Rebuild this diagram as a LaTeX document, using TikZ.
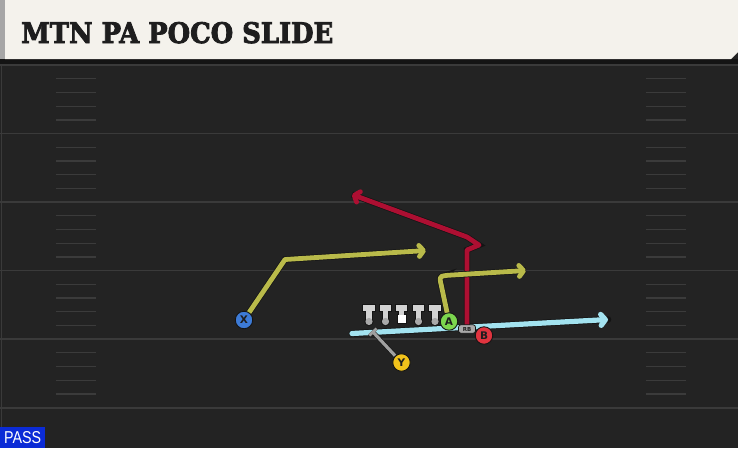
\documentclass[tikz,border=0pt]{standalone}
\usepackage{graphicx}
\usepackage{fontspec}
\setmainfont{Liberation Sans}
\newfontfamily\titlefont[FakeBold=3]{DejaVu Serif Bold}
\newfontfamily\letterfont{DejaVu Sans}
\usetikzlibrary{arrows.meta}
\definecolor{field}{HTML}{232323}
\definecolor{yardline}{HTML}{3A3A3A}
\definecolor{hashc}{HTML}{3B3B3B}
\definecolor{cream}{HTML}{F4F2EC}
\definecolor{titleink}{HTML}{1E1E1E}
\definecolor{olive}{HTML}{B9BA4A}
\definecolor{crimson}{HTML}{AD0F32}
\definecolor{sky}{HTML}{A3E3F0}
\definecolor{blockgray}{HTML}{A0A0A0}
\definecolor{xblue}{HTML}{3D7BD6}
\definecolor{yyellow}{HTML}{F2C31B}
\definecolor{agreen}{HTML}{7CD64E}
\definecolor{bred}{HTML}{E0343F}
\definecolor{passblue}{HTML}{0B2BD6}
\definecolor{linemanc}{HTML}{D2D2D2}
\definecolor{linebase}{HTML}{A9A9A9}
\definecolor{outline}{HTML}{141414}
\pgfdeclarelayer{fieldlayer}
\pgfdeclarelayer{routelayer}
\pgfsetlayers{fieldlayer,routelayer,main}
\tikzset{
  player/.style={circle, draw=outline, line width=0.9pt, minimum size=17.5pt, inner sep=0pt,
    font=\letterfont\bfseries\fontsize{10.5}{10.5}\selectfont, text=titleink},
  route/.style={line width=4.8pt, line join=round, line cap=round,
    preaction={draw=outline, line width=6.2pt, line cap=butt, -}},
  tipbarb/.style={-{Straight Barb[length=4.5pt,width=11pt,line cap=round,line join=round]}},
  yard/.style={draw=yardline, line width=1.5pt},
  hashmark/.style={draw=hashc, line width=1.2pt},
}
\begin{document}
\begin{tikzpicture}[x=1pt,y=-1pt]
\useasboundingbox (0,0) rectangle (738,448);
% ---------- field ----------
\begin{pgfonlayer}{fieldlayer}
\fill[field] (0,0) rectangle (738,448);
\fill[black!92] (0,59) rectangle (738,65);
\draw[yardline, line width=1pt] (1.5,65) -- (1.5,448);
\foreach \yl in {65,133.5,202,270.5,339,408}{
  \draw[yard] (0,\yl) -- (738,\yl);
}
\foreach \yl in {65,133.5,202,270.5,339}{
  \foreach \off in {13.8,27.5,41.2,55}{
    \draw[hashmark] (56,\yl+\off) -- (96,\yl+\off);
    \draw[hashmark] (646,\yl+\off) -- (686,\yl+\off);
  }
}
% title bar
\fill[cream] (5,0) -- (738,0) -- (738,52) -- (731,59) -- (5,59) -- cycle;
\fill[black!35] (0,0) rectangle (5,59);
\end{pgfonlayer}
\node[anchor=base west, inner sep=0pt, text=titleink] (title) at (21,43)
  {\resizebox{312pt}{21pt}{\titlefont MTN PA POCO SLIDE}};
% PASS tag
\node[anchor=south west, fill=passblue, inner sep=0pt, minimum width=45pt, minimum height=20.5pt,
  text=white, text depth=1pt] (pass) at (0,448) {\resizebox{37pt}{12pt}{PASS}};
% ---------- linemen ----------
\foreach \lx in {369,385.5,418.5,435}{
  \fill[outline] (\lx-6.8,304) rectangle (\lx+6.8,312);
  \fill[outline] (\lx-3.6,311) rectangle (\lx+3.6,320);
  \fill[outline] (\lx,321.5) circle (4.6);
  \fill[linemanc] (\lx-5.8,305) rectangle (\lx+5.8,311);
  \fill[linemanc] (\lx-2.6,310) rectangle (\lx+2.6,320);
  \fill[linebase] (\lx,321.5) circle (3.6);
}
\fill[outline] (394.7,304) rectangle (408.3,312);
\fill[outline] (397.9,311) rectangle (405.1,316);
\fill[outline] (396.5,314) rectangle (406.5,323.5);
\fill[linemanc] (395.7,305) rectangle (407.3,311);
\fill[linemanc] (398.9,310) rectangle (404.1,316);
\fill[white] (397.5,315) rectangle (405.5,322.5);
% ---------- players ----------
\node[player, fill=xblue] (X) at (244,320) {X};
\node[player, fill=yyellow] (Y) at (401.5,362.5) {Y};
\node[player, fill=agreen] (A) at (449,321.5) {A};
\node[player, fill=bred] (B) at (484,335.5) {B};
\node[rectangle, rounded corners=2.5pt, fill=linebase, draw=outline, line width=0.7pt,
  minimum width=17pt, minimum height=8.5pt, inner sep=0pt,
  font=\letterfont\bfseries\fontsize{5.5}{5.5}\selectfont, text=titleink] (RB) at (467,329) {RB};
% ---------- route points ----------
\coordinate (s1) at (352,333.5);
\coordinate (s2) at (608,319.5);
\coordinate (x1) at (285,259.5);
\coordinate (x2) at (426,250.5);
\coordinate (a1) at (439.5,277);
\coordinate (a2) at (526,270.5);
\coordinate (b1) at (467,250);
\coordinate (b2) at (479,245);
\coordinate (b3) at (467,237);
\coordinate (b4) at (352,194.5);
\coordinate (y1) at (372,331);
% ---------- routes ----------
\begin{pgfonlayer}{routelayer}
\draw[route, sky, line width=5.2pt, tipbarb, preaction={draw=outline, line width=6.6pt, line cap=round, -}] (s1) -- (s2);
\draw[route, crimson, tipbarb] (RB.center) -- (b1) -- (b2) -- (b3) -- (b4);
\draw[route, olive, tipbarb] (X) -- (x1) -- (x2);
\draw[route, olive, tipbarb, rounded corners=3pt] (A) -- (a1) -- ([xshift=5pt]a1 |- 0,275.5) -- (a2);
\draw[blockgray, line width=3.2pt, preaction={draw=outline, line width=4.4pt}, -{Bar[width=10pt,line width=2.8pt]}] (Y) -- (y1);
\end{pgfonlayer}
\end{tikzpicture}
\end{document}
